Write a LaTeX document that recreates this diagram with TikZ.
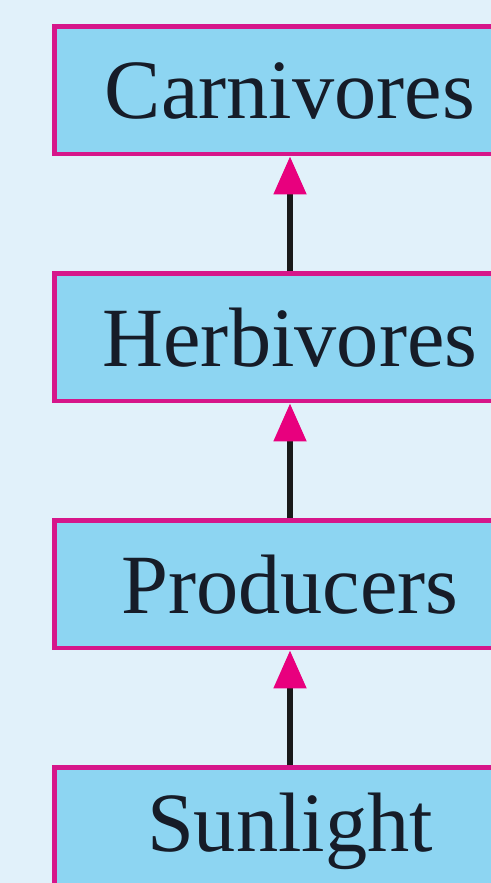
\documentclass[tikz,border=0pt]{standalone}
\usepackage{fontspec}
\setmainfont{Liberation Serif}
\usetikzlibrary{positioning,arrows.meta}
\definecolor{skyBg}{RGB}{225, 241, 250}
\definecolor{boxFill}{RGB}{141, 213, 242}
\definecolor{boxLine}{RGB}{214, 22, 138}
\definecolor{tipPink}{RGB}{232, 0, 126}
\definecolor{textInk}{RGB}{22, 28, 40}

\tikzset{
  chainbox/.style={draw=boxLine, fill=boxFill, line width=0.09cm, text=textInk,
    minimum width=9.43cm, minimum height=2.55cm, inner sep=0pt,
    font=\fontsize{48}{56}\selectfont},
  flow/.style={line width=3pt, black!90,
    -{Triangle[length=0.76cm, width=0.64cm, color=tipPink]}}
}

\begin{document}
\begin{tikzpicture}[node distance=2.3cm]
  \fill[skyBg] (0,0) rectangle (9.82,17.66);
  \useasboundingbox (0,0) rectangle (9.82,17.66);
  \node[chainbox] (carnivores) at (5.8,15.85) {Carnivores};
  \node[chainbox, below=of carnivores] (herbivores) {Herbivores};
  \node[chainbox, below=of herbivores] (producers) {Producers};
  \node[chainbox, below=of producers] (sunlight) {Sunlight};
  \draw[flow] (sunlight) -- (producers);
  \draw[flow] (producers) -- (herbivores);
  \draw[flow] (herbivores) -- (carnivores);
\end{tikzpicture}
\end{document}
